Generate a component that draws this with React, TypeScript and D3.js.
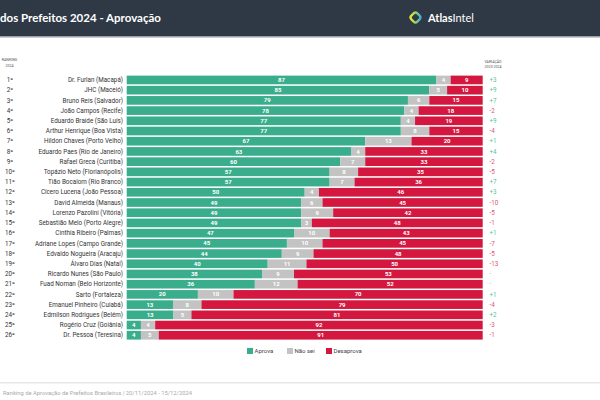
import React from "react";
import * as d3 from "d3";

const ranks = ["1º","2º","3º","4º","5º","6º","7º","8º","9º","10º","11º","12º","13º","14º","15º","16º","17º","18º","19º","20º","21º","22º","23º","24º","25º","26º"];
const mayors = [
  "Dr. Furlan (Macapá)","JHC (Maceió)","Bruno Reis (Salvador)","João Campos (Recife)","Eduardo Braide (São Luís)",
  "Arthur Henrique (Boa Vista)","Hildon Chaves (Porto Velho)","Eduardo Paes (Rio de Janeiro)","Rafael Greca (Curitiba)",
  "Topázio Neto (Florianópolis)","Tião Bocalom (Rio Branco)","Cícero Lucena (João Pessoa)","David Almeida (Manaus)",
  "Lorenzo Pazolini (Vitória)","Sebastião Melo (Porto Alegre)","Cinthia Ribeiro (Palmas)","Adriane Lopes (Campo Grande)",
  "Edvaldo Nogueira (Aracaju)","Álvaro Dias (Natal)","Ricardo Nunes (São Paulo)","Fuad Noman (Belo Horizonte)",
  "Sarto (Fortaleza)","Emanuel Pinheiro (Cuiabá)","Edmilson Rodrigues (Belém)","Rogério Cruz (Goiânia)","Dr. Pessoa (Teresina)"
];
const aprova = [87,85,79,78,77,77,67,63,60,57,57,50,49,49,49,47,45,44,40,38,36,20,13,13,4,4];
const naoSei = [4,5,6,4,4,8,13,4,7,8,7,4,6,9,3,10,10,9,11,9,12,10,8,5,4,5];
const desaprova = [9,10,15,18,19,15,20,33,33,35,36,46,45,42,48,43,45,48,50,53,52,70,79,81,92,91];
const variacao = ["+3","+9","+7","-2","+9","-4","+1","+4","-2","-5","+7","+3","-10","-5","-1","+1","-7","-5","-13","-","-","+1","-4","+2","-3","-1"];
const seriesKeys = ["Aprova","Não sei","Desaprova"];
const seriesColors = ["#3aae8c","#c3c3c3","#d3173f"];

export default function App() {
  const W = 600, H = 400;
  const rows = mayors.map((m, i) => ({ name: m, rank: ranks[i], Aprova: aprova[i], "Não sei": naoSei[i], Desaprova: desaprova[i], v: variacao[i] }));
  const stack = d3.stack<any>().keys(seriesKeys).offset(d3.stackOffsetExpand);
  const layers = stack(rows);
  const x = d3.scaleLinear().domain([0, 1]).range([126.7, 482.7]);
  const y = d3.scaleBand().domain(mayors).range([74.9, 340.3]).paddingInner(0.15).paddingOuter(0.07);
  const color = d3.scaleOrdinal<string, string>().domain(seriesKeys).range(seriesColors);
  const font = "Roboto, 'Noto Sans', sans-serif";
  const bw = y.bandwidth();

  const legendX = [247, 287, 326];

  return (
    <svg width={W} height={H} style={{ position: "absolute", left: 0, top: 0, display: "block" }} fontFamily={font}>
      <rect x={0} y={0} width={W} height={H} fill="#ffffff" />
      {/* header */}
      <rect x={0} y={0} width={W} height={36} fill="#2f3945" />
      <rect x={0} y={36} width={W} height={1.5} fill="#9a9ea3" />
      <text x={0} y={22} fill="#ffffff" fontFamily="Lato, sans-serif" fontWeight="bold" fontSize={11.5}>dos Prefeitos 2024 - Aprovação</text>
      <defs>
        <linearGradient id="logoGrad" x1="0" y1="1" x2="1" y2="0">
          <stop offset="0%" stopColor="#f2e43a" />
          <stop offset="45%" stopColor="#9fd65a" />
          <stop offset="100%" stopColor="#3aa8e6" />
        </linearGradient>
      </defs>
      <rect x={-4.2} y={-4.2} width={8.4} height={8.4} rx={2.6} fill="none" stroke="url(#logoGrad)" strokeWidth={2.3}
        transform="translate(415.5,17.5) rotate(45)" />
      <text x={428} y={21.5} fill="#ffffff" fontFamily="Lato, sans-serif" fontSize={11}>
        <tspan fontWeight="bold">Atlas</tspan><tspan>Intel</tspan>
      </text>

      {/* column headers */}
      <text x={9.5} y={61} textAnchor="middle" fontSize={3.6} fill="#555">RANKING</text>
      <text x={9.5} y={66.5} textAnchor="middle" fontSize={3.6} fill="#555">2024</text>
      <text x={493} y={62.5} textAnchor="middle" fontSize={3.6} fill="#555">VARIAÇÃO</text>
      <text x={493} y={68} textAnchor="middle" fontSize={3.6} fill="#555">2023-2024</text>

      {/* bars */}
      {layers.map((layer) => (
        <g key={layer.key} fill={color(layer.key)}>
          {layer.map((d: any, i: number) => (
            <rect key={i} x={x(d[0])} y={y(d.data.name)!} width={x(d[1]) - x(d[0])} height={bw} />
          ))}
        </g>
      ))}
      {layers.map((layer) => (
        <g key={layer.key + "-lbl"}>
          {layer.map((d: any, i: number) => (
            <text key={i} x={(x(d[0]) + x(d[1])) / 2} y={y(d.data.name)! + bw / 2} dy="0.35em" textAnchor="middle"
              fontSize={6} fontWeight="bold" fill="#ffffff">{d.data[layer.key]}</text>
          ))}
        </g>
      ))}

      {/* row labels */}
      {rows.map((r) => (
        <g key={r.name}>
          <text x={10} y={y(r.name)! + bw / 2} dy="0.35em" textAnchor="middle" fontSize={6.3} fill="#333">{r.rank}</text>
          <text x={123} y={y(r.name)! + bw / 2} dy="0.35em" textAnchor="end" fontSize={6.3} fill="#333">{r.name}</text>
          <text x={489.5} y={y(r.name)! + bw / 2} dy="0.35em" textAnchor="start" fontSize={6.3}
            fill={r.v.startsWith("+") ? "#5cbf9f" : r.v === "-" ? "#bbbbbb" : "#db5676"}>{r.v}</text>
        </g>
      ))}

      {/* legend */}
      {seriesKeys.map((k, i) => (
        <g key={k} transform={`translate(${legendX[i]},348)`}>
          <rect x={0} y={0} width={6} height={6} fill={seriesColors[i]} />
          <text x={7.5} y={3} dy="0.35em" fontSize={6} fill="#444">{k}</text>
        </g>
      ))}

      {/* footer */}
      <rect x={0} y={382} width={W} height={1.5} fill="#e8e8e8" />
      <text x={3} y={395} fontSize={5.8} fill="#aaaaaa">Ranking de Aprovação de Prefeitos Brasileiros  |  20/11/2024 - 15/12/2024</text>
    </svg>
  );
}
